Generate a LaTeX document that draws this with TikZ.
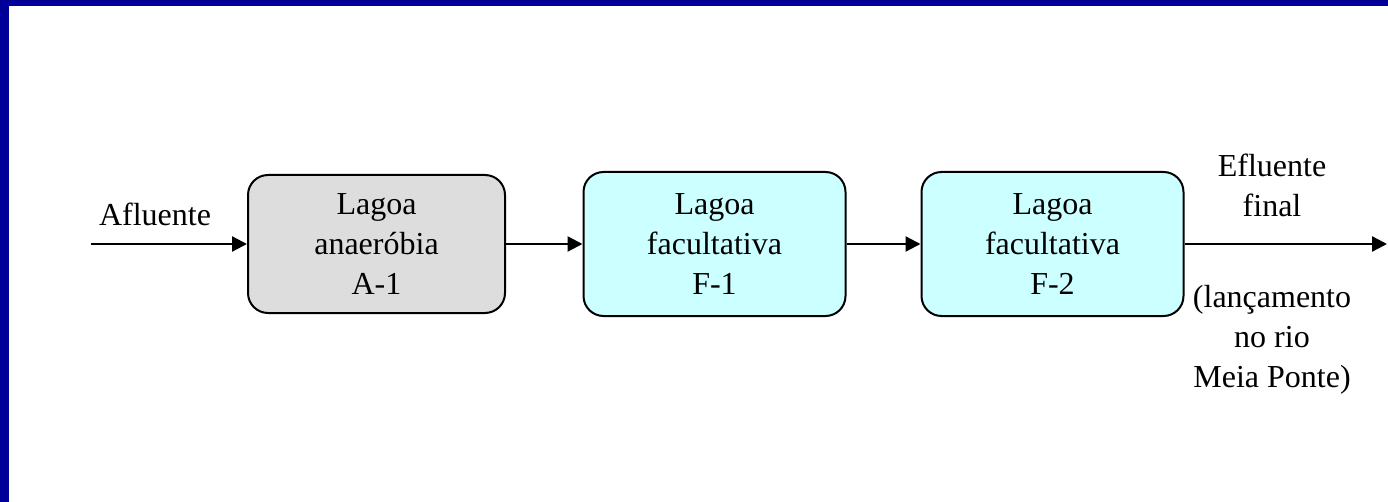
\documentclass[tikz,border=0pt]{standalone}
\usepackage{fontspec}
\setmainfont{Liberation Serif}
\usetikzlibrary{arrows.meta}

\definecolor{frameblue}{RGB}{0,0,153}
\definecolor{anaegray}{RGB}{221,221,221}
\definecolor{faccyan}{RGB}{204,255,255}

\begin{document}
\begin{tikzpicture}[x=1pt,y=1pt,>={Triangle[length=15pt,width=15pt]},line width=2.3pt,node distance=338pt,
                    lagoa/.style={rectangle,rounded corners=20pt,draw,line width=2pt,align=center,inner sep=0pt,
                                  minimum width=262pt,minimum height=144pt,font=\fontsize{32}{40}\selectfont,
                                  execute at begin node=\rule{0pt}{29pt}},
                    label text/.style={align=center,inner sep=0pt,font=\fontsize{32}{40}\selectfont}]

  \useasboundingbox (0,0) rectangle (1388,-502);
  \fill[frameblue] (0,0) rectangle (9,-502);
  \fill[frameblue] (0,0) rectangle (1388,-6);

  \node[lagoa,fill=anaegray,minimum width=257pt,minimum height=138pt] (A1) at (376.5,-244) {Lagoa\\anaeróbia\\A-1};
  \node[lagoa,fill=faccyan] (F1) [right of=A1] {Lagoa\\facultativa\\F-1};
  \node[lagoa,fill=faccyan] (F2) [right of=F1] {Lagoa\\facultativa\\F-2};

  \coordinate (in) at (91,-244);
  \coordinate (out) at (1387,-244);

  \node[label text] (afl) at (155,-214.5) {Afluente};
  \node[label text] (efl) at (1272,-185.5) {Efluente\\final};
  \node[label text] (lanc) at (1272,-339.5) {(lançamento\\no rio\\Meia Ponte)};

  \path[->]
    (in) edge (A1)
    (A1) edge (F1)
    (F1) edge (F2)
    (F2) edge (out)
;
\end{tikzpicture}
\end{document}
